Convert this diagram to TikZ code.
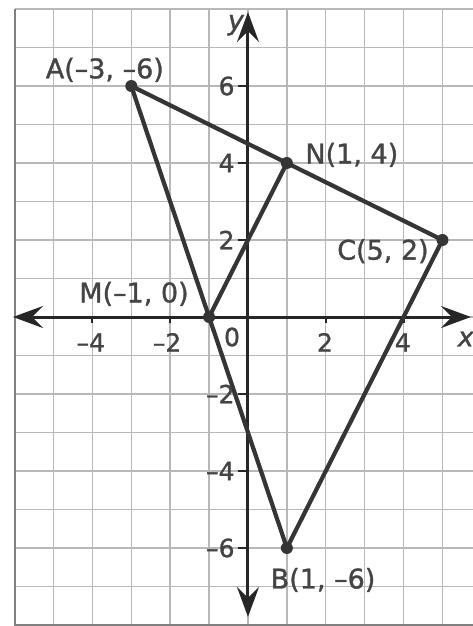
\documentclass[tikz,border=0pt]{standalone}
\usepackage{fontspec}
\setmainfont{DejaVu Sans}[FakeBold=1.2]
\newfontfamily\labfont{DejaVu Sans}[FakeBold=1.2]
\usetikzlibrary{arrows.meta}
\definecolor{gridc}{HTML}{B8B8B8}
\definecolor{ink}{HTML}{353535}
\definecolor{txt}{HTML}{444444}
\begin{document}
\begin{tikzpicture}[x=38.9bp,y=38.5bp,
  gridline/.style={draw=gridc,line width=1.4bp},
  border/.style={draw=black!50,line width=2bp},
  axis/.style={draw=black!85,line width=3bp,>={Stealth[length=30bp,width=22bp,inset=11bp]},<->},
  seg/.style={draw=ink,line width=4.2bp,line cap=round},
  dot/.style={circle,fill=ink,inner sep=0pt,minimum size=12bp},
  lab/.style={font=\labfont\fontsize{27bp}{29bp}\selectfont,text=txt,inner sep=0pt},
  num/.style={font=\labfont\fontsize{25bp}{27bp}\selectfont,text=txt,inner sep=0pt},
  tickmark/.style={draw=black!85,line width=2bp}]

\useasboundingbox (-6.375,-8.026) rectangle (5.784,8.234);
\fill[white] (-6.375,-8.026) rectangle (5.784,8.234);

% grid
\foreach \x in {-5,...,5} \draw[gridline] (\x,-8) -- (\x,8);
\foreach \y in {-7,...,8} \draw[gridline] (-6,\y) -- (5.784,\y);
\draw[border] (-6,8) -- (-6,-8) -- (5.784,-8);

% axes
\coordinate (xl) at (-6.04,0);
\coordinate (xr) at (5.73,0);
\coordinate (yt) at (0,7.92);
\coordinate (yb) at (0,-7.79);
\draw[axis] (xl) -- (xr);
\draw[axis] (yb) -- (yt);

% ticks
\foreach \y in {-6,-4,-2,2,4,6} \draw[tickmark] (-0.26,\y) -- (0,\y);
\foreach \x in {-4,-2,2,4} \draw[tickmark] (\x,0) -- (\x,-0.15);

% points
\node[dot] (A) at (-3,6) {};
\node[dot] (B) at (1,-6) {};
\node[dot] (C) at (5,2) {};
\node[dot] (M) at (-1,0) {};
\node[dot] (N) at (1,4) {};

\draw[seg] (A.center) -- (C.center);
\draw[seg] (A.center) -- (B.center);
\draw[seg] (B.center) -- (C.center);
\draw[seg] (M.center) -- (N.center);

% point labels
\node[lab] (la) at (-3.68,6.42) {A(–3, –6)};
\node[lab] (ln) at (2.67,4.21) {N(1, 4)};
\node[lab] (lm) at (-2.93,0.60) {M(–1, 0)};
\node[lab] (lc) at (3.47,1.71) {C(5, 2)};
\node[lab] (lb) at (1.93,-6.83) {B(1, –6)};

% axis labels
\node[lab,font=\labfont\fontsize{27bp}{29bp}\selectfont\itshape] (ly) at (-0.31,7.58) {y};
\node[lab,font=\labfont\fontsize{27bp}{29bp}\selectfont\itshape] (lx) at (5.6,-0.57) {x};

% numbers
\node[num,anchor=east] (y6) at (-0.34,6) {6};
\node[num,anchor=east] (y4) at (-0.34,4) {4};
\node[num,anchor=east] (y2) at (-0.34,2) {2};
\node[num,anchor=east] (ym2) at (-0.34,-2) {–2};
\node[num,anchor=east] (ym4) at (-0.34,-4) {–4};
\node[num,anchor=east] (ym6) at (-0.34,-6) {–6};
\node[num] (xm4) at (-4.04,-0.66) {–4};
\node[num] (xm2) at (-2.08,-0.66) {–2};
\node[num] (x0) at (-0.41,-0.52) {0};
\node[num] (x2) at (1.98,-0.66) {2};
\node[num] (x4) at (3.98,-0.66) {4};
\end{tikzpicture}
\end{document}
